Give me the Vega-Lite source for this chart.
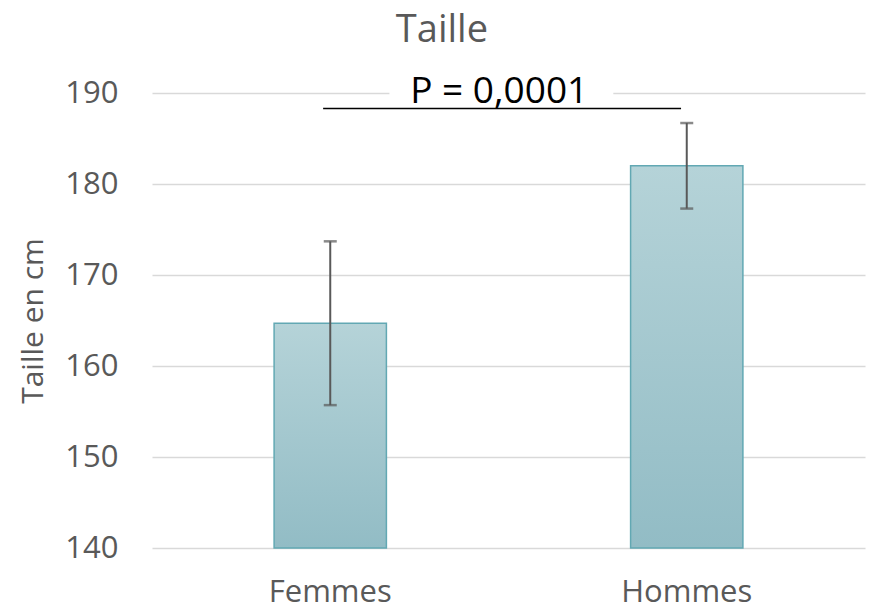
{
  "$schema": "https://vega.github.io/schema/vega-lite/v6.json",
  "width": 713,
  "height": 455,
  "padding": {"left": 18, "right": 5, "top": 12, "bottom": 0},
  "title": {"text": "Taille", "font": "Open Sans", "fontSize": 38, "fontWeight": "normal", "color": "#595959", "anchor": "middle", "frame": "bounds", "offset": 23},
  "datasets": {
    "groups": [
      {"sexe": "Femmes", "moyenne": 164.7, "bas": 155.7, "haut": 173.7},
      {"sexe": "Hommes", "moyenne": 182.0, "bas": 177.3, "haut": 186.7}
    ],
    "annot": [
      {"label": "P = 0,0001", "debut": 0.24, "fin": 0.742, "niveau": 188.3, "texte_x": 0.487, "texte_y": 188.9, "trou_debut": 0.333, "trou_fin": 0.647, "trou_bas": 189.6, "trou_haut": 190.4}
    ]
  },
  "layer": [
    {
      "data": {"name": "groups"},
      "encoding": {
        "x": {"field": "sexe", "type": "nominal", "sort": null,
          "scale": {"paddingInner": 0, "paddingOuter": 0},
          "axis": {"title": null, "labelAngle": 0, "ticks": false, "domain": false, "labelFont": "Open Sans", "labelFontSize": 31, "labelColor": "#595959", "labelPadding": 29, "grid": false}}
      },
      "layer": [
        {
          "mark": {"type": "bar", "width": {"band": 0.315}, "stroke": "#62a8b3", "strokeWidth": 1.5,
            "color": {"gradient": "linear", "x1": 0, "y1": 0, "x2": 0, "y2": 1, "stops": [{"offset": 0, "color": "#b5d3d8"}, {"offset": 1, "color": "#92bcc5"}]}},
          "encoding": {
            "y": {"field": "moyenne", "type": "quantitative",
              "scale": {"domain": [140, 190], "nice": false, "zero": false},
              "axis": {"title": "Taille en cm", "values": [140, 150, 160, 170, 180, 190], "ticks": false, "domain": false, "grid": true, "gridColor": "#d9d9d9", "gridWidth": 1.5, "labelFont": "Open Sans", "labelFontSize": 31, "labelColor": "#595959", "labelPadding": 34, "titleFont": "Open Sans", "titleFontSize": 30, "titleFontWeight": "normal", "titleColor": "#595959", "titlePadding": 16}},
            "y2": {"datum": 140}
          }
        },
        {
          "mark": {"type": "rule", "color": "#595959", "strokeWidth": 2},
          "encoding": {
            "y": {"field": "bas", "type": "quantitative"},
            "y2": {"field": "haut"}
          }
        },
        {
          "mark": {"type": "tick", "orient": "horizontal", "color": "#595959", "thickness": 2.5, "size": 13},
          "encoding": {"y": {"field": "bas", "type": "quantitative"}}
        },
        {
          "mark": {"type": "tick", "orient": "horizontal", "color": "#595959", "thickness": 2.5, "size": 13},
          "encoding": {"y": {"field": "haut", "type": "quantitative"}}
        }
      ]
    },
    {
      "data": {"name": "annot"},
      "layer": [
        {
          "mark": {"type": "rect", "color": "white"},
          "encoding": {
            "x": {"field": "trou_debut", "type": "quantitative", "scale": {"domain": [0, 1], "nice": false, "zero": false}, "axis": null},
            "x2": {"field": "trou_fin"},
            "y": {"field": "trou_bas", "type": "quantitative"},
            "y2": {"field": "trou_haut"}
          }
        },
        {
          "mark": {"type": "rule", "color": "#000000", "strokeWidth": 1.5},
          "encoding": {
            "x": {"field": "debut", "type": "quantitative", "scale": {"domain": [0, 1], "nice": false, "zero": false}, "axis": null},
            "x2": {"field": "fin"},
            "y": {"field": "niveau", "type": "quantitative"}
          }
        },
        {
          "mark": {"type": "text", "font": "Open Sans", "fontSize": 37, "color": "#000000", "align": "center", "baseline": "alphabetic"},
          "encoding": {
            "x": {"field": "texte_x", "type": "quantitative", "scale": {"domain": [0, 1], "nice": false, "zero": false}, "axis": null},
            "y": {"field": "texte_y", "type": "quantitative"},
            "text": {"field": "label"}
          }
        }
      ]
    }
  ],
  "resolve": {"scale": {"x": "independent"}},
  "config": {"view": {"stroke": null}, "background": "white"}
}
